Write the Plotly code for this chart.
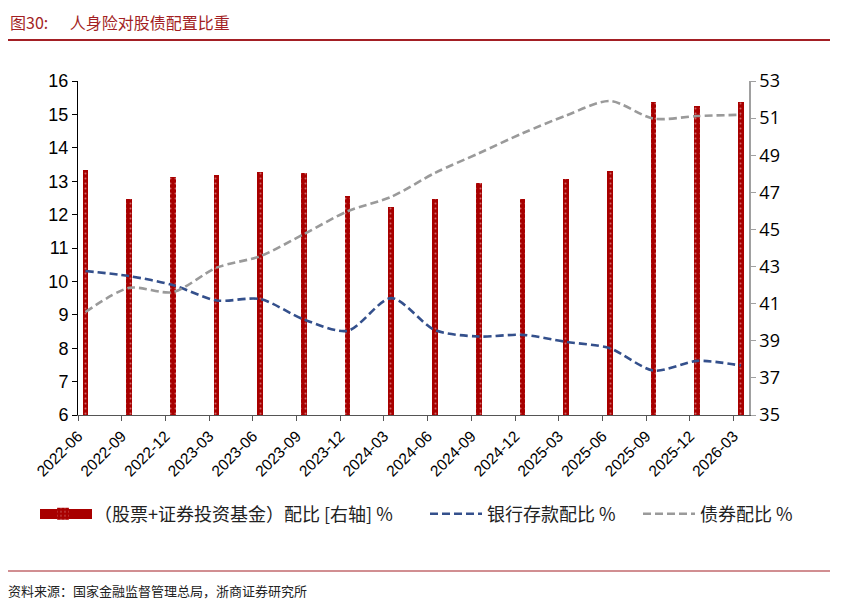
import plotly.graph_objects as go

W, H = 841, 612
# the page adds an 8px body margin, so layout pixels are given minus that
OFF = 8
# plot area in pixels (as seen in the screenshot)
PL, PR, PT, PB = 78 - OFF, 749 - OFF, 81 - OFF, 415 - OFF

quarters = [
    "2022-06", "2022-09", "2022-12", "2023-03", "2023-06", "2023-09",
    "2023-12", "2024-03", "2024-06", "2024-09", "2024-12", "2025-03",
    "2025-06", "2025-09", "2025-12", "2026-03",
]
equity_fund = [13.35, 12.47, 13.12, 13.18, 13.28, 13.24, 12.56, 12.24,
               12.46, 12.95, 12.47, 13.08, 13.32, 15.37, 15.25, 15.38]
bank_deposit = [10.31, 10.16, 9.89, 9.43, 9.47, 8.86, 8.52, 9.50,
                8.54, 8.35, 8.40, 8.19, 8.00, 7.33, 7.62, 7.48]
bond = [40.55, 41.85, 41.62, 42.94, 43.56, 44.75, 45.98, 46.76,
        48.05, 49.10, 50.18, 51.14, 51.92, 50.97, 51.11, 51.18]

# data sit a little right of each quarter tick, like the source chart
SHIFT = 0.17
xpos = [i + SHIFT for i in range(len(quarters))]

RED = "#A80000"
BLUE = "#34508C"
GREY = "#9A9A9A"
TITLE_RED = "#A31F24"
LEGEND_Y = 514


def px_x(px):
    return (px - OFF - PL) / (PR - PL)


def px_y(py):
    return (PB - (py - OFF)) / (PB - PT)


def legend_box(px):
    # one legend per entry so each sits where the source puts it
    return {
        'orientation': 'h',
        'xref': 'container', 'yref': 'container',
        'x': (px - OFF) / W, 'xanchor': 'left',
        'y': 1 - (LEGEND_Y - OFF) / H, 'yanchor': 'middle',
        'font': {'size': 18, 'family': "Noto Sans CJK SC", 'color': '#222222'},
        'itemwidth': 52,
        'bgcolor': 'rgba(0,0,0,0)',
    }


fig = go.Figure()

fig.add_trace(go.Bar(
    x=xpos, y=equity_fund,
    name="（股票+证券投资基金）配比 [右轴] %",
    width=0.13,
    legend='legend',
    marker={
        'color': RED,
        'line': {'width': 0},
        'pattern': {'shape': ".", 'fgcolor': "#F6D2D2", 'size': 5, 'solidity': 0.12},
    },
))

fig.add_trace(go.Scatter(
    x=xpos, y=bank_deposit,
    name="银行存款配比 %",
    mode='lines',
    legend='legend2',
    line={'color': BLUE, 'width': 2.6, 'dash': "8px,4px", 'shape': 'spline', 'smoothing': 0.8},
))

fig.add_trace(go.Scatter(
    x=xpos, y=bond,
    name="债券配比 %",
    mode='lines', yaxis='y2',
    legend='legend3',
    line={'color': GREY, 'width': 2.6, 'dash': "8px,4px", 'shape': 'spline', 'smoothing': 0.8},
))

fig.update_layout(
    width=W, height=H,
    margin={'l': PL, 'r': W - PR, 't': PT, 'b': H - PB, 'pad': 0},
    paper_bgcolor='white',
    plot_bgcolor='white',
    font={'family': "Liberation Sans, Arial, Noto Sans CJK SC", 'color': '#000000'},
    bargap=0,
    xaxis={
        'range': [0, (PR - PL) / 43.7],
        'tickvals': list(range(len(quarters))),
        'ticktext': quarters,
        'tickangle': -45,
        'tickfont': {'size': 15.5},
        'ticks': 'outside', 'ticklen': 5, 'tickcolor': '#555555',
        'showline': True, 'linecolor': '#555555', 'linewidth': 1,
        'showgrid': False, 'zeroline': False,
        'automargin': False,
    },
    yaxis={
        'range': [6, 16], 'dtick': 1,
        'tickfont': {'size': 18},
        'ticks': 'outside', 'ticklen': 5, 'tickcolor': '#000000',
        'showline': True, 'linecolor': '#000000', 'linewidth': 1,
        'showgrid': False, 'zeroline': False,
        'automargin': False,
    },
    yaxis2={
        'range': [35, 53], 'tick0': 35, 'dtick': 2, 'overlaying': 'y', 'side': 'right',
        'tickfont': {'size': 18, 'family': "Open Sans, Liberation Sans"},
        'ticks': 'outside', 'ticklen': 5, 'tickcolor': '#A0A0A0',
        'showline': True, 'linecolor': '#A0A0A0', 'linewidth': 1.5,
        'showgrid': False, 'zeroline': False,
        'automargin': False,
    },
    legend=legend_box(32),
    legend2=legend_box(425),
    legend3=legend_box(638),
    showlegend=True,
)

# wide swatch for the bar entry, as in the source legend
fig.add_shape(type='rect', xref='paper', yref='paper',
              x0=px_x(40), x1=px_x(92), y0=px_y(LEGEND_Y - 5), y1=px_y(LEGEND_Y + 5),
              fillcolor=RED, line={'width': 0}, layer='above')

# title, rules and source note
fig.add_annotation(
    x=px_x(8), y=px_y(22), xref='paper', yref='paper',
    text="图30:      人身险对股债配置比重", showarrow=False,
    xanchor='left', yanchor='middle',
    font={'size': 16, 'color': TITLE_RED, 'family': "Noto Sans CJK SC"},
)
fig.add_shape(type='line', xref='paper', yref='paper',
              x0=px_x(5), x1=px_x(830), y0=px_y(40), y1=px_y(40),
              line={'color': TITLE_RED, 'width': 2})
fig.add_shape(type='line', xref='paper', yref='paper',
              x0=px_x(5), x1=px_x(830), y0=px_y(571), y1=px_y(571),
              line={'color': TITLE_RED, 'width': 1})
fig.add_annotation(
    x=px_x(6), y=px_y(590), xref='paper', yref='paper',
    text="资料来源：国家金融监督管理总局，浙商证券研究所", showarrow=False,
    xanchor='left', yanchor='middle',
    font={'size': 13, 'color': '#222222', 'family': "Noto Sans CJK SC"},
)

fig.write_html("out.html")
